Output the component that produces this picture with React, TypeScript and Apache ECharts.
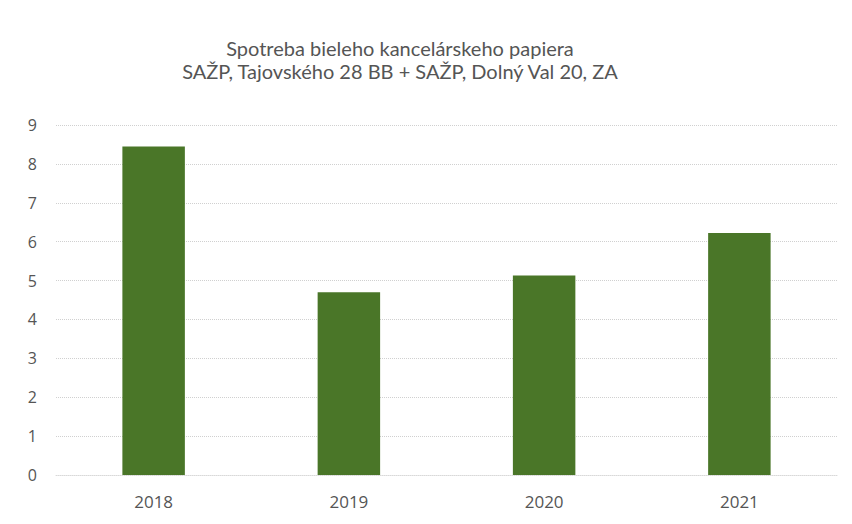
import React, { useEffect, useRef } from "react";
import * as echarts from "echarts";

const categories = ["2018", "2019", "2020", "2021"];
const values = [8.45, 4.7, 5.13, 6.22];
const yTicks = [0, 1, 2, 3, 4, 5, 6, 7, 8, 9];
const titleLines = [
  "Spotreba bieleho kancelárskeho papiera",
  "SAŽP, Tajovského 28 BB + SAŽP, Dolný Val 20, ZA",
];

export default function App() {
  const ref = useRef<HTMLDivElement>(null);
  useEffect(() => {
    if (!ref.current) return;
    const chart = echarts.init(ref.current, undefined, { renderer: "svg" });
    chart.setOption({
      animation: false,
      backgroundColor: "#ffffff",
      title: titleLines.map((t, i) => ({
        text: t,
        left: 400,
        top: 38 + i * 23,
        textAlign: "center",
        padding: 0,
        textStyle: {
          fontFamily: "Lato",
          fontSize: 20,
          fontWeight: "normal",
          color: "#555555",
          lineHeight: 20,
        },
      })),
      grid: { left: 56, right: 15, top: 125, bottom: 49, containLabel: false },
      xAxis: {
        type: "category",
        data: categories,
        axisLine: { show: true, lineStyle: { color: "#d9d9d9", type: "dotted" } },
        axisTick: { show: false },
        axisLabel: {
          color: "#555555",
          fontFamily: "Open Sans",
          fontSize: 17,
          margin: 18,
        },
      },
      yAxis: {
        type: "value",
        min: yTicks[0],
        max: yTicks[yTicks.length - 1],
        interval: 1,
        axisLine: { show: false },
        axisTick: { show: false },
        axisLabel: {
          color: "#555555",
          fontFamily: "Open Sans",
          fontSize: 16,
          margin: 19,
        },
        splitLine: { show: true, lineStyle: { color: "#d0d0d0", type: "dotted", width: 1 } },
      },
      series: [
        {
          type: "bar",
          data: values,
          barWidth: "32%",
          itemStyle: { color: "#4a7628" },
        },
      ],
    });
    return () => chart.dispose();
  }, []);
  return <div ref={ref} style={{ width: 852, height: 524, margin: -8 }} />;
}
